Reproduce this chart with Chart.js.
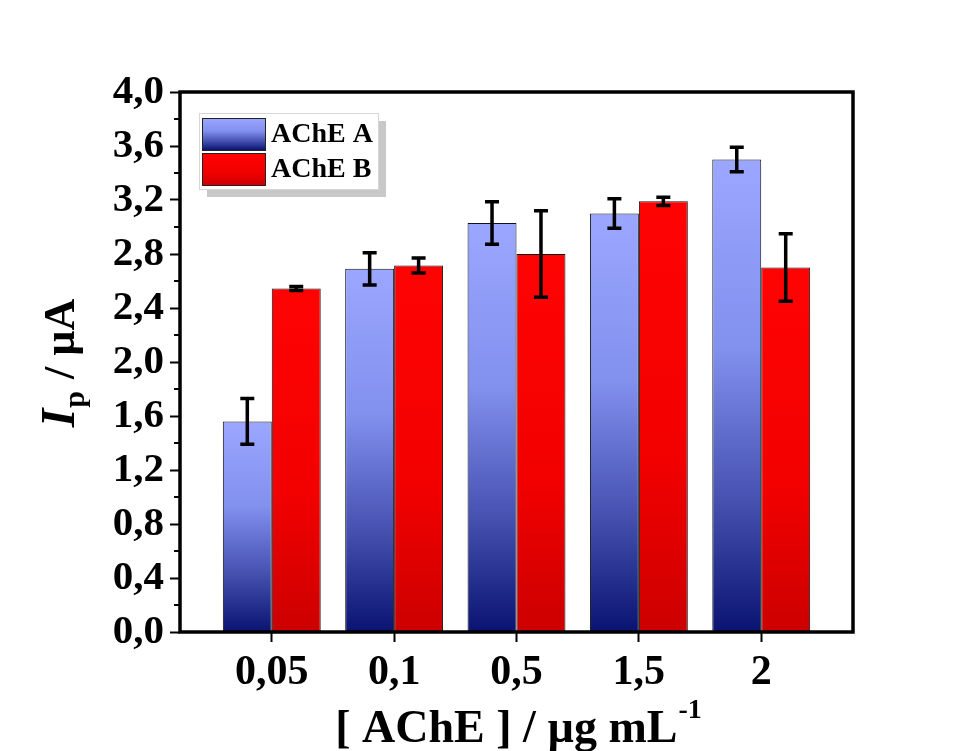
<!DOCTYPE html>
<html>
<head>
<meta charset="utf-8">
<script src="https://cdn.jsdelivr.net/npm/chart.js@4.4.1/dist/chart.umd.min.js"></script>
<style>
  html, body { margin: 0; padding: 0; background: #fff; }
  #wrap { width: 974px; height: 751px; position: relative; }
</style>
</head>
<body>
<div id="wrap"><canvas id="myChart" width="974" height="751"></canvas></div>
<script>
const categories = ["0,05", "0,1", "0,5", "1,5", "2"];
const achA = [1.56, 2.69, 3.03, 3.10, 3.50];
const achAErr = [0.17, 0.12, 0.157, 0.11, 0.09];
const achB = [2.545, 2.715, 2.80, 3.19, 2.70];
const achBErr = [0.015, 0.055, 0.32, 0.03, 0.25];
const yTickLabels = ["0,0", "0,4", "0,8", "1,2", "1,6", "2,0", "2,4", "2,8", "3,2", "3,6", "4,0"];

const FONT = "'Liberation Serif', 'Times New Roman', serif";

// per-bar vertical gradient, top of bar -> axis
function barGradient(c, stops, fallback) {
  const chart = c.chart;
  if (!chart.chartArea || c.type !== "data") return fallback;
  const y = chart.scales.y;
  const top = y.getPixelForValue(c.parsed.y);
  const bottom = y.getPixelForValue(0);
  if (!isFinite(top) || !isFinite(bottom) || top === bottom) return fallback;
  const g = chart.ctx.createLinearGradient(0, top, 0, bottom);
  stops.forEach(s => g.addColorStop(s[0], s[1]));
  return g;
}

const blueStops = [[0, "#9ba7ff"], [0.4, "#8290ee"], [0.72, "#4651b0"], [1, "#0a1372"]];
const redStops = [[0, "#ff0303"], [0.6, "#f20000"], [1, "#cc0000"]];

const errorBars = {
  id: "errorBars",
  afterDatasetsDraw(chart) {
    const ctx = chart.ctx;
    const y = chart.scales.y;
    const errs = [achAErr, achBErr];
    ctx.save();
    ctx.strokeStyle = "#000";
    ctx.lineWidth = 3.5;
    chart.data.datasets.forEach((ds, di) => {
      const meta = chart.getDatasetMeta(di);
      meta.data.forEach((bar, i) => {
        const v = ds.data[i].y;
        const e = errs[di][i];
        const yt = y.getPixelForValue(v + e);
        const yb = y.getPixelForValue(v - e);
        const x = bar.x;
        ctx.beginPath();
        ctx.moveTo(x, yt); ctx.lineTo(x, yb);
        ctx.moveTo(x - 7, yt); ctx.lineTo(x + 7, yt);
        ctx.moveTo(x - 7, yb); ctx.lineTo(x + 7, yb);
        ctx.stroke();
      });
    });
    ctx.restore();
  }
};

const frame = {
  id: "frame",
  afterDraw(chart) {
    const ctx = chart.ctx;
    const a = chart.chartArea;
    const y = chart.scales.y;
    ctx.save();
    // minor ticks on y
    ctx.strokeStyle = "#000";
    ctx.lineWidth = 2;
    for (let i = 0; i < yTickLabels.length - 1; i++) {
      const py = y.getPixelForValue(i * 0.4 + 0.2);
      ctx.beginPath();
      ctx.moveTo(a.left - 6, py); ctx.lineTo(a.left, py);
      ctx.stroke();
    }
    ctx.lineWidth = 3.5;
    ctx.strokeRect(a.left, a.top, a.right - a.left, a.bottom - a.top);

    // legend
    const lx = 199, ly = 113, lw = 179, lh = 76;
    ctx.fillStyle = "#c8c8c8";
    ctx.fillRect(lx + 8, ly + 8, lw, lh);
    ctx.fillStyle = "#fff";
    ctx.fillRect(lx, ly, lw, lh);
    ctx.strokeStyle = "#d6d6d6";
    ctx.lineWidth = 1;
    ctx.strokeRect(lx + 0.5, ly + 0.5, lw, lh);

    const items = [
      { label: chart.data.datasets[0].label, stops: blueStops, y: 118 },
      { label: chart.data.datasets[1].label, stops: redStops, y: 153 }
    ];
    items.forEach(it => {
      const g = ctx.createLinearGradient(0, it.y, 0, it.y + 32);
      it.stops.forEach(s => g.addColorStop(s[0], s[1]));
      ctx.fillStyle = g;
      ctx.fillRect(202, it.y, 63, 32);
      ctx.strokeStyle = "#222";
      ctx.lineWidth = 1;
      ctx.strokeRect(202.5, it.y + 0.5, 63, 32);
      ctx.fillStyle = "#000";
      ctx.font = "bold 28px " + FONT;
      ctx.textBaseline = "middle";
      ctx.textAlign = "left";
      ctx.fillText(it.label, 271, it.y + 17);
    });

    // x title
    ctx.fillStyle = "#000";
    ctx.textBaseline = "alphabetic";
    const main = "[ AChE ] / \u00b5g mL";
    const sup = "-1";
    ctx.font = "bold 46px " + FONT;
    const w1 = ctx.measureText(main).width;
    ctx.font = "bold 28px " + FONT;
    const w2 = ctx.measureText(sup).width;
    let sx = 518 - (w1 + w2) / 2;
    ctx.font = "bold 46px " + FONT;
    ctx.fillText(main, sx, 742);
    ctx.font = "bold 28px " + FONT;
    ctx.fillText(sup, sx + w1 + 1, 718);

    // y title, rotated
    ctx.translate(74, 364);
    ctx.rotate(-Math.PI / 2);
    const p1 = "I", p2 = "p", p3 = " / \u00b5A";
    ctx.font = "italic bold 48px " + FONT;
    const a1 = ctx.measureText(p1).width;
    ctx.font = "bold 30px " + FONT;
    const a2 = ctx.measureText(p2).width;
    ctx.font = "bold 44px " + FONT;
    const a3 = ctx.measureText(p3).width;
    let tx = -(a1 + a2 + a3) / 2;
    ctx.font = "italic bold 48px " + FONT;
    ctx.fillText(p1, tx, 0);
    ctx.font = "bold 30px " + FONT;
    ctx.fillText(p2, tx + a1 + 1, 10);
    ctx.font = "bold 44px " + FONT;
    ctx.fillText(p3, tx + a1 + a2 + 2, 0);
    ctx.restore();
  }
};

const canvas = document.getElementById("myChart");
const ctx = canvas.getContext("2d");

new Chart(ctx, {
  type: "bar",
  data: {
    datasets: [
      {
        label: "AChE A",
        data: categories.map((c, i) => ({ x: i + 1, y: achA[i] })),
        backgroundColor: c => barGradient(c, blueStops, "#6f7de0"),
        borderColor: "#111",
        borderWidth: 1
      },
      {
        label: "AChE B",
        data: categories.map((c, i) => ({ x: i + 1, y: achB[i] })),
        backgroundColor: c => barGradient(c, redStops, "#ee0000"),
        borderColor: "#111",
        borderWidth: 1
      }
    ]
  },
  options: {
    responsive: false,
    animation: false,
    events: [],
    categoryPercentage: 0.8,
    barPercentage: 1,
    layout: { padding: { top: 92, right: 121, left: 0, bottom: 0 } },
    plugins: {
      legend: { display: false },
      tooltip: { enabled: false }
    },
    scales: {
      x: {
        type: "linear",
        min: 0.25,
        max: 5.75,
        offset: false,
        border: { display: false },
        grid: {
          offset: false,
          drawOnChartArea: false,
          drawTicks: true,
          tickLength: 10,
          tickWidth: 2,
          tickColor: "#000"
        },
        afterBuildTicks: axis => {
          axis.ticks = categories.map((c, i) => ({ value: i + 1 }));
        },
        afterFit: axis => { axis.height = 119; },
        ticks: {
          autoSkip: false,
          maxRotation: 0,
          padding: 6,
          color: "#000",
          font: { family: FONT, size: 42, weight: "bold" },
          callback: v => categories[Math.round(v) - 1]
        }
      },
      y: {
        min: 0,
        max: 4,
        border: { display: false },
        grid: {
          drawOnChartArea: false,
          drawTicks: true,
          tickLength: 10,
          tickWidth: 2,
          tickColor: "#000"
        },
        afterFit: axis => { axis.width = 180; },
        ticks: {
          stepSize: 0.4,
          padding: 6,
          color: "#000",
          font: { family: FONT, size: 41, weight: "bold" },
          callback: (v, i) => yTickLabels[i]
        }
      }
    }
  },
  plugins: [errorBars, frame]
});
</script>
</body>
</html>
